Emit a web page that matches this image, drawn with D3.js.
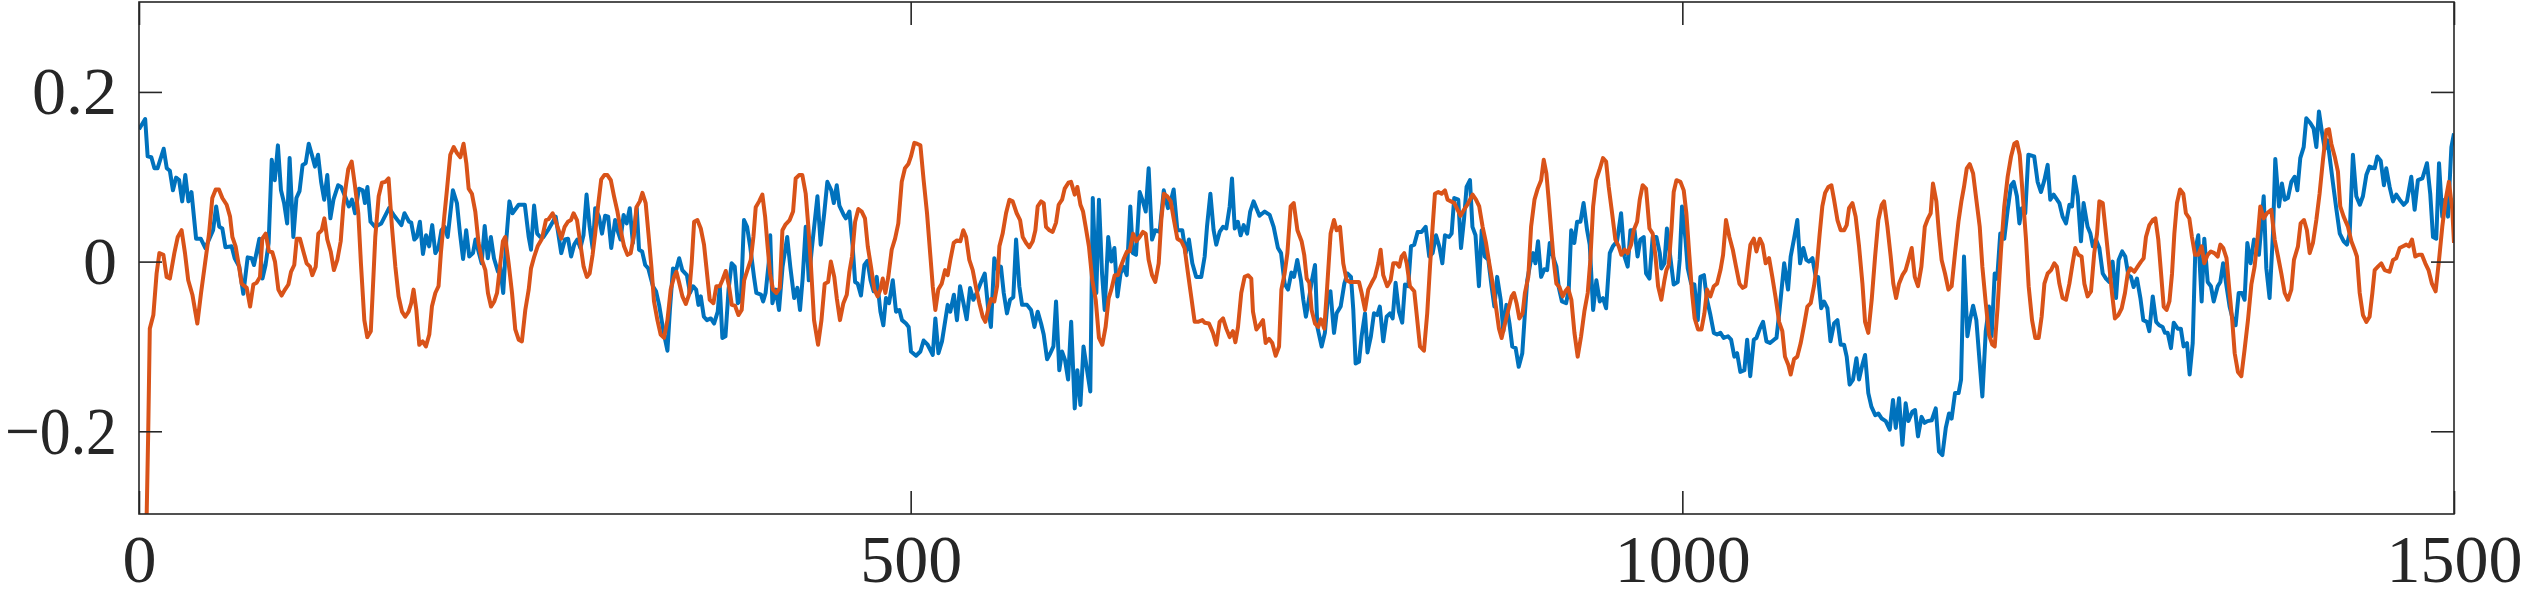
<!DOCTYPE html>
<html>
<head>
<meta charset="utf-8">
<script src="https://cdn.jsdelivr.net/npm/d3@7/dist/d3.min.js"></script>
<style>
	html, body { margin: 0; padding: 0; background: #fff; }
	svg { display: block; }
</style>
</head>
<body>
<svg id="chart" width="2527" height="597"></svg>
<script>
(function () {

	// sample index / value pairs
	var blueSeries = [[0,.156],[4,.168],[5.6,.124],[8,.123],[10,.110],[12,.110],[16,.133],[18,.110],[20,.107],[22,.084],[24,.099],[26,.096],[28,.071],[30,.102],[32,.071],[34,.082],[37,.027],[40,.027],[43,.016],[48,.037],[50,.065],[52,.041],[54,.039],[56,.017],[60,.018],[62,.004],[65,-.006],[67.6,-.038],[70.4,.005],[73,.004],[74.5,-.004],[78,.027],[80,-.020],[82,-.004],[84,.022],[86,.120],[88,.096],[90,.137],[92,.084],[94,.069],[96,.045],[97.6,.122],[100,.029],[102,.075],[104,.083],[106,.114],[108,.116],[110,.139],[112,.126],[114,.112],[116,.126],[118,.094],[120,.073],[122,.102],[124,.051],[126,.073],[129,.090],[131,.088],[133.5,.077],[136,.065],[138,.073],[140,.057],[142.5,.086],[145,.084],[146.4,.069],[148,.088],[150,.047],[153,.041],[157,.045],[162,.063],[165,.055],[170,.043],[172,.057],[175,.047],[176.4,.046],[178.4,.026],[180,.029],[182,.047],[184,.009],[186,.031],[188,.018],[190,.043],[192,.010],[194,.016],[196,.037],[198,.041],[200,.029],[203.4,.084],[206,.069],[208,.033],[210,.003],[212,.037],[214,.006],[216.4,.010],[218,.026],[220,.012],[222,-.002],[224,.042],[226,.004],[228,.029],[230,.004],[232.6,-.012],[234,-.006],[236,-.037],[238,.026],[240,.071],[242,.057],[246,.067],[250,.067],[252.5,.029],[254,.014],[256,.066],[258,.033],[260,.029],[262,.029],[265,.037],[270,.053],[273.6,.010],[276,.026],[278,.027],[280,.006],[282,.020],[284,.026],[286,.016],[288,.031],[290,.079],[292,.041],[294,.015],[295.6,.063],[298,.053],[300,.033],[302,.054],[304,.053],[306,.016],[308.5,.049],[310,.037],[312,.026],[314,.055],[316,.045],[318,.063],[320,.022],[322.5,.063],[324,.014],[326,.012],[328,-.004],[330,-.008],[333,-.029],[335,-.035],[337,-.051],[340,-.084],[342.4,-.105],[344,-.057],[346,-.008],[348,-.010],[350,.004],[352,-.010],[355,-.016],[357,-.037],[359,-.029],[361,-.033],[362.5,-.051],[364,-.041],[366,-.065],[368,-.069],[370.5,-.067],[372.6,-.073],[375,-.059],[376.3,-.029],[378,-.090],[380,-.088],[382,-.033],[384,-.002],[386,-.006],[388,-.049],[390,-.045],[392,.049],[394,.041],[396,.018],[398.5,-.018],[400,-.037],[403,-.039],[404.4,-.047],[406,-.037],[408,-.002],[409,.031],[410.4,-.049],[412.6,-.033],[414.7,-.057],[417,-.006],[420,.029],[422,-.006],[424.5,-.043],[426.6,-.031],[428.3,-.057],[430,-.020],[432,.041],[434,-.022],[436,.016],[439.6,.077],[441.7,.020],[444,.057],[446,.094],[448.6,.084],[450.2,.069],[452.1,.090],[453.8,.066],[456.6,.055],[458,.051],[460.3,.059],[462.4,.018],[464,-.024],[465.7,-.026],[467.8,-.040],[470,-.004],[472,.001],[474,-.022],[476,-.035],[478,-.018],[480.4,-.059],[482.3,-.075],[484,-.043],[486,-.049],[488.4,-.022],[490.5,-.059],[492.7,-.057],[494.4,-.069],[497,-.073],[498.7,-.077],[500.2,-.106],[503.5,-.111],[506.3,-.106],[508.4,-.093],[511,-.098],[514.3,-.110],[516,-.067],[518,-.108],[520.3,-.094],[524,-.051],[525.7,-.059],[528,-.039],[530,-.069],[532,-.029],[534,-.047],[536.3,-.068],[538.5,-.031],[540.6,-.045],[542.8,-.037],[545.6,-.024],[548,-.014],[550.3,-.057],[552,-.077],[554.2,.004],[556.8,-.012],[558.5,-.006],[560.3,-.037],[562.4,-.061],[564.4,-.045],[566.5,-.042],[568.3,.026],[570.4,-.029],[572.2,-.051],[575.4,-.051],[578,-.057],[580.2,-.077],[582.3,-.059],[584.5,-.073],[586.2,-.086],[588.4,-.115],[590.5,-.108],[592.5,-.100],[594.2,-.047],[596.3,-.128],[598.1,-.106],[600,-.116],[602,-.139],[604,-.071],[606.3,-.173],[608,-.128],[610,-.169],[612,-.100],[614.3,-.128],[616.4,-.153],[618,.075],[620.3,-.037],[622,.073],[624,-.014],[625.7,-.057],[628,.029],[630,0],[632,.016],[634,-.041],[636,-.014],[638,-.006],[640,-.016],[642.3,.065],[644,.010],[646,.008],[648.4,.082],[650.5,.071],[652.3,.059],[654.2,.110],[656.4,.026],[658.5,.037],[661.3,.035],[664,.084],[666.7,.063],[668.5,.071],[670.4,.085],[672.8,.037],[676,.037],[678.2,.010],[680.3,.026],[682.5,-.002],[685,-.018],[688.3,-.018],[690.5,.006],[692,.041],[694.2,.080],[696.3,.037],[698,.020],[700.2,.035],[702.4,.041],[704.5,.039],[706.7,.065],[708.2,.098],[710,.039],[712,.047],[713.8,.031],[715.8,.043],[718,.033],[720,.059],[722.2,.071],[726,.054],[729.4,.059],[732.6,.055],[735.2,.041],[738,.016],[740,.010],[742.3,-.026],[744.5,-.033],[746.7,-.013],[748.4,-.018],[750.5,.002],[752.9,-.022],[754.4,-.045],[756.1,-.065],[758,-.045],[759.8,-.024],[762,-.004],[763.5,-.077],[766.3,-.100],[768.4,-.084],[770.6,-.037],[772,-.035],[774.3,-.084],[776,-.061],[778.6,-.053],[781,-.026],[783,-.014],[785.3,-.018],[786.8,-.057],[788.3,-.120],[790.5,-.118],[792.2,-.088],[794.4,-.061],[796,-.107],[798.2,-.088],[800.2,-.061],[802.3,-.063],[804,-.053],[806.2,-.094],[808.4,-.065],[810.6,-.061],[812.3,-.067],[814.2,-.025],[816.4,-.059],[818.5,-.072],[820.3,-.027],[822.4,-.029],[824.2,.018],[826.3,.020],[828.5,.035],[831,.035],[833.7,.041],[836,.006],[838.2,.010],[840.4,.031],[842.5,.018],[844.5,-.002],[846.2,.031],[848.8,.029],[850.5,.033],[852.2,.075],[854.8,.073],[856.6,.016],[858.5,.049],[860.2,.088],[862.4,.096],[864,.041],[866,.031],[868.2,-.029],[870,.037],[872,.006],[874.3,.002],[876.4,-.029],[878.2,-.053],[880,-.018],[882.3,-.045],[884,-.082],[886,-.051],[888,-.073],[889.8,-.100],[892,-.102],[894,-.124],[896.3,-.108],[898,-.061],[899.5,-.022],[901.5,-.002],[903.3,.010],[904.8,-.002],[906.5,.024],[908.5,-.018],[910.6,-.009],[912.4,-.010],[914.1,.022],[916.2,.006],[918.4,-.006],[920,-.031],[922,-.047],[924.7,-.049],[926.4,-.033],[928,.037],[930,.022],[931.8,.047],[934,.047],[936,.069],[938.3,.037],[940,.020],[942.2,-.057],[944.3,-.022],[946.5,-.047],[948.6,-.043],[950.6,-.055],[953,.010],[955,.018],[957.7,.024],[960.3,.057],[962.5,.006],[964.6,-.006],[966.4,.037],[969,.037],[971,.006],[972.8,.026],[975,.029],[976.5,-.014],[978.7,-.020],[980.8,.029],[983.2,.029],[985.4,.010],[986.4,-.008],[988.4,-.002],[990,.039],[992.3,.004],[994.4,-.027],[997,-.024],[998.3,.002],[999.8,.065],[1002,.027],[1003.5,-.008],[1005.7,-.026],[1007.8,-.027],[1010,-.069],[1011.7,-.018],[1014,-.016],[1016,-.045],[1018.2,-.063],[1020.4,-.084],[1022.5,-.086],[1024.7,-.084],[1026.8,-.090],[1029.6,-.088],[1031.6,-.092],[1033.7,-.112],[1035.5,-.108],[1037.6,-.130],[1040.2,-.128],[1042,-.092],[1044,-.135],[1046.3,-.092],[1048,-.090],[1050.2,-.079],[1052.3,-.071],[1054.5,-.094],[1056.8,-.096],[1059.4,-.092],[1061,-.090],[1063,-.057],[1066,-.002],[1068.5,-.033],[1070.2,.006],[1072.4,.027],[1074.5,.049],[1076.3,-.002],[1078.4,.016],[1080.4,.002],[1082,0],[1084.3,.004],[1086.4,-.018],[1088,-.018],[1090,-.055],[1091.8,-.047],[1094,-.055],[1096,-.094],[1098.3,-.073],[1100.5,-.069],[1102.6,-.098],[1104.8,-.098],[1106.5,-.112],[1108.4,-.145],[1110.6,-.139],[1112.8,-.114],[1114.5,-.139],[1116.6,-.122],[1118.4,-.110],[1120.5,-.155],[1122.5,-.171],[1125,-.181],[1127,-.179],[1129.2,-.185],[1131.8,-.188],[1134.4,-.198],[1136.5,-.163],[1138.3,-.196],[1140.4,-.161],[1142.6,-.216],[1144.7,-.167],[1146.5,-.188],[1149,-.177],[1150.8,-.175],[1152.7,-.206],[1155,-.183],[1157,-.190],[1158.8,-.188],[1161.6,-.187],[1164.2,-.173],[1166.3,-.224],[1168.5,-.228],[1170.7,-.196],[1172.8,-.179],[1174.5,-.185],[1176.7,-.155],[1179,-.155],[1180.6,-.139],[1182.5,.006],[1184.7,-.088],[1186.4,-.069],[1188.4,-.052],[1190.5,-.069],[1192.7,-.120],[1194.4,-.159],[1196.6,-.082],[1198.7,-.053],[1200.4,-.088],[1202.4,-.014],[1204,-.020],[1206,.033],[1208.6,.027],[1210.8,.061],[1213,.090],[1214.7,.094],[1216.8,.077],[1218.4,.045],[1220,.063],[1222.2,.057],[1224.2,.126],[1228,.124],[1230.2,.094],[1232.4,.082],[1234.6,.096],[1236.7,.114],[1238.4,.073],[1240.6,.079],[1244.3,.069],[1246.4,.053],[1248.6,.045],[1250.8,.067],[1252.5,.065],[1254,.100],[1256.2,.077],[1258.3,.024],[1260,.069],[1262.6,.041],[1264.4,.033],[1266,.018],[1268,.026],[1270.2,.016],[1272.4,-.014],[1274.5,-.020],[1276.7,-.024],[1278.8,0],[1281,-.043],[1282.7,.002],[1285,.012],[1287,.006],[1289,-.016],[1290.7,-.018],[1292.4,-.030],[1294.6,-.020],[1296.8,-.043],[1298.7,-.069],[1301,-.071],[1302.6,-.082],[1304.8,-.041],[1307,-.071],[1309,-.075],[1311.2,-.077],[1312.7,-.084],[1314.5,-.084],[1316.6,-.102],[1318.4,-.072],[1321,-.079],[1323,-.079],[1324.8,-.100],[1327,-.096],[1328.7,-.133],[1330.7,-.096],[1332.4,.014],[1334.3,.031],[1336.5,-.047],[1338.2,.027],[1340.4,-.024],[1342.5,-.029],[1344.3,-.047],[1346.9,-.029],[1348.6,-.024],[1350.4,-.002],[1352.6,-.029],[1354.6,-.053],[1356.8,-.069],[1358.5,-.075],[1360.5,-.037],[1362.6,-.037],[1364.3,-.045],[1366.1,.022],[1368.2,-.002],[1370.4,.026],[1372,.024],[1373.6,.008],[1375.1,.041],[1376.7,.077],[1378.4,-.008],[1380.5,-.043],[1382.7,.033],[1384.2,.121],[1386.6,.065],[1388.5,.092],[1390.3,.073],[1392.4,.075],[1394.6,.094],[1396.7,.100],[1398.5,.084],[1400.4,.122],[1402.6,.135],[1404.3,.169],[1407,.163],[1409,.157],[1410.8,.135],[1412.5,.177],[1414.4,.153],[1416.2,.133],[1418,.143],[1419.4,.124],[1421.6,.092],[1423.7,.063],[1426,.033],[1428.5,.024],[1430.6,.020],[1432.4,.033],[1434.5,.126],[1436.7,.077],[1439,.067],[1441,.077],[1443.2,.102],[1445.3,.112],[1448.6,.110],[1450.3,.124],[1452.5,.119],[1454.6,.090],[1456.1,.110],[1458.3,.088],[1460.5,.071],[1462.6,.079],[1464.8,.073],[1467.4,.067],[1469.5,.071],[1472.3,.100],[1474.5,.061],[1476.6,.096],[1479.5,.098],[1482.5,.116],[1484.6,.080],[1486.4,.029],[1488.5,.027],[1490.3,.116],[1492.4,.053],[1494,.073],[1496.1,.053],[1498.3,.135],[1500,.151]];

	var orangeSeries = [[3,-.33],[5,-.296],[6,-.198],[7,-.079],[9.3,-.063],[11.4,-.014],[13.2,.010],[15.8,.008],[17.9,-.018],[20,-.020],[22.9,.010],[25.1,.029],[27.6,.037],[29.8,.010],[31.9,-.022],[34.6,-.039],[37.8,-.073],[40.2,-.037],[42.8,-.002],[45.4,.033],[47.5,.075],[49.7,.085],[51.8,.085],[54,.075],[56.8,.067],[59,.053],[60.5,.029],[62.6,.018],[64.8,-.006],[66.5,-.026],[69.8,-.031],[72,-.053],[74.1,-.027],[76.2,-.025],[78.4,-.018],[79.9,.027],[82.1,.033],[84.2,.012],[86.4,.011],[88.1,0],[90.3,-.033],[92.4,-.040],[94.6,-.033],[96.8,-.027],[98.5,-.012],[100.6,-.004],[102.2,.027],[104.3,.027],[106.5,.012],[108.6,-.002],[110.8,-.006],[112.3,-.016],[114.5,-.006],[116.2,.033],[118.4,.037],[120.1,.051],[122,.026],[124.2,.012],[126.3,-.010],[128.5,.002],[130.7,.024],[132.4,.065],[134.1,.090],[135.6,.109],[137.8,.118],[139.9,.090],[142.1,.057],[143.8,-.002],[146,-.069],[147.9,-.089],[150.2,-.082],[151.4,-.037],[153.1,.029],[155.3,.077],[157.4,.093],[159.6,.094],[161.7,.098],[163.9,.041],[166.1,-.006],[168.2,-.041],[170.4,-.059],[172.5,-.065],[174.7,-.059],[176.4,-.049],[177.9,-.033],[179.7,-.057],[181.6,-.098],[183.8,-.094],[185.9,-.100],[188.1,-.086],[189.8,-.053],[192,-.037],[194.1,-.029],[195.6,.010],[197.8,.053],[199.5,.084],[201.7,.126],[203.9,.135],[206,.128],[208.2,.123],[210.3,.139],[212.1,.116],[213.6,.086],[215.7,.080],[217.9,.059],[220,.022],[222.2,.002],[224.4,-.010],[226.1,-.037],[228.1,-.053],[230.2,-.047],[232,-.037],[234.1,-.002],[235.8,.024],[237.3,.029],[239.5,-.002],[241.7,-.037],[243.8,-.080],[246,-.092],[248.1,-.094],[250.3,-.057],[252.5,-.033],[254,-.008],[256.1,.006],[258.3,.018],[261.1,.027],[263.7,.049],[265.4,.050],[268,.057],[269.7,.049],[271.9,.037],[273.6,.027],[275.8,.041],[277.9,.047],[279.9,.049],[281.6,.057],[283.8,.049],[285.9,.022],[288.1,-.006],[290.2,-.018],[292,-.014],[293.9,.008],[295.6,.033],[297.4,.065],[299.5,.097],[301.5,.102],[303.5,.102],[305.7,.096],[307.8,.077],[310,.059],[312.1,.037],[314.3,.018],[316.5,.008],[318.6,.010],[320.8,.033],[322.3,.064],[324.5,.071],[326.2,.081],[328.3,.069],[330.1,.033],[332,-.006],[333.7,-.047],[335.9,-.069],[338,-.086],[340.2,-.090],[342.4,-.069],[344.5,-.033],[346.7,-.018],[348.2,-.012],[349.9,-.024],[352.1,-.041],[354.3,-.050],[356.4,-.039],[358.1,-.002],[359.7,.047],[361.8,.049],[364,.039],[366.1,.020],[367.6,-.006],[369.8,-.045],[372.2,-.049],[374.1,-.029],[376.3,-.029],[378,-.022],[380.2,-.011],[382.3,-.029],[384.1,-.051],[386.2,-.052],[388.4,-.063],[390.5,-.057],[392.1,-.022],[394.2,-.010],[396.4,.002],[398.1,.029],[399.6,.064],[401.8,.071],[403.9,.079],[405.7,.053],[407.2,.020],[408.9,-.014],[410.8,-.033],[413,-.037],[415.2,-.031],[416.9,.037],[419,.044],[421.6,.049],[423.8,.059],[425.5,.098],[427.7,.102],[429.8,.102],[432,.080],[433.7,.041],[435.3,-.002],[437.4,-.069],[440,-.098],[442.2,-.069],[444.3,-.026],[446.5,-.024],[448.3,0],[450.5,-.018],[452.2,-.044],[454.2,-.069],[456.4,-.049],[458.6,-.039],[460.3,-.012],[462,.006],[464,.047],[466.1,.062],[468.3,.059],[470.4,.051],[472.2,.018],[474.3,-.006],[476.5,-.033],[478.6,-.041],[480.4,-.033],[481.9,-.020],[483.6,-.037],[485.5,-.018],[487.7,.014],[489.9,.027],[492,.045],[494.2,.094],[496.3,.110],[498.5,.115],[500.2,.124],[502.4,.140],[504.1,.139],[506.3,.137],[508.4,.096],[510.6,.057],[512.8,.006],[514.3,-.029],[516,-.057],[517.9,-.033],[520.1,-.026],[522.3,-.010],[524,-.016],[525.7,.002],[527.9,.022],[530,.025],[532.2,.024],[534.1,.037],[535.9,.029],[538,.002],[540.2,-.010],[542.4,-.031],[544.5,-.049],[546.7,-.065],[548.4,-.071],[550.6,-.053],[552.1,-.044],[554.2,-.047],[556,-.029],[557.5,.018],[559.6,.033],[561.8,.057],[564,.073],[566.1,.071],[568.7,.057],[570.9,.049],[572.6,.029],[574.8,.022],[576.9,.017],[579.1,.024],[580.8,.037],[582.3,.065],[584.5,.071],[586.2,.069],[587.7,.041],[589.9,.037],[592,.035],[594.2,.046],[595.9,.067],[598.1,.073],[599.8,.086],[602.2,.093],[603.9,.094],[606.3,.079],[608,.088],[610,.067],[611.7,.059],[613.4,.041],[615.5,.018],[617.7,-.022],[619.9,-.045],[622,-.090],[624.2,-.098],[626.3,-.077],[628.3,-.043],[630,-.033],[632.2,-.016],[634.3,-.016],[636.1,-.006],[638.2,.004],[640.2,.012],[641.9,.012],[644.1,.033],[646.2,.024],[648.4,.029],[650.5,.035],[652.3,.033],[654.2,.002],[656.4,-.016],[658.5,-.024],[660.7,-.002],[662.4,.049],[664.1,.080],[666.3,.077],[668.5,.071],[670.6,.049],[672.8,.027],[675.4,.024],[677.5,.016],[679.7,-.014],[681.9,-.043],[684,-.071],[686.2,-.071],[689,-.069],[690.5,-.072],[693.3,-.073],[695.9,-.084],[698.1,-.098],[700.2,-.071],[702.4,-.067],[704.5,-.079],[706.7,-.089],[708.8,-.082],[710.4,-.095],[712.1,-.077],[714.2,-.037],[716.4,-.018],[718.6,-.016],[720.7,-.020],[721.8,-.059],[724,-.080],[726.1,-.075],[728.3,-.069],[730,-.096],[732.2,-.091],[734.3,-.096],[736.5,-.111],[738.7,-.100],[740.2,-.033],[742.3,-.014],[744.1,.010],[746.2,.065],[748.2,.069],[750.6,.037],[753.3,.024],[755,.008],[756.6,-.020],[758.3,-.025],[759.8,-.057],[762,-.073],[764.1,-.077],[765.8,-.068],[768,-.079],[769.9,-.029],[772.1,.033],[774.3,.049],[776,.037],[778.2,.041],[780.3,-.002],[782.5,-.022],[784.6,-.024],[787.4,-.024],[790.5,-.024],[792.2,-.037],[794.4,-.057],[796.5,-.033],[798.7,-.025],[800.8,-.018],[803,-.002],[804.5,.014],[806.2,-.016],[808.8,-.029],[811,-.022],[812.7,-.002],[814.9,-.002],[816.6,-.006],[818.1,.006],[819.8,.010],[821.4,-.002],[823.5,-.029],[826.3,-.035],[827.8,-.061],[830,-.100],[832.6,-.105],[834.7,-.061],[836.5,-.006],[838.2,.041],[839.7,.080],[841.9,.082],[844,.080],[846.2,.084],[847.9,.073],[850.1,.071],[852.2,.069],[854.4,.061],[856.3,.054],[858.5,.061],[860.7,.067],[862.4,.073],[864.1,.079],[866.3,.073],[868.4,.065],[870.6,.041],[872.8,.022],[874.9,-.002],[877.1,-.026],[879.2,-.053],[881.2,-.079],[882.9,-.090],[885.1,-.073],[887.2,-.057],[889.4,-.041],[890.9,-.037],[892.6,-.049],[894.4,-.067],[896.5,-.061],[898,-.037],[900.2,-.018],[902,.041],[904.2,.073],[906.3,.086],[908.5,.096],[910.2,.120],[911.9,.104],[913.4,.073],[915.2,.033],[916.7,0],[918.4,-.026],[920.4,-.030],[922.5,-.041],[924.2,-.035],[925.9,-.031],[928.1,-.045],[930.1,-.084],[932.2,-.112],[934.4,-.088],[936.5,-.059],[938.7,-.037],[940.4,.002],[942.2,.065],[944.1,.096],[946.3,.108],[948.6,.122],[950.6,.118],[952.3,.088],[954.5,.057],[956.6,.026],[958.8,.018],[960.5,.008],[962.7,.014],[964.6,.010],[966.8,.020],[968.5,.037],[970.7,.047],[972.4,.073],[974.3,.090],[976.5,.086],[978.7,.039],[980.8,.033],[982.6,.006],[984.3,-.029],[986.4,-.045],[988.4,-.022],[989.7,-.010],[991.2,-.004],[993,.039],[994.4,.082],[996.2,.096],[998.8,.094],[1000.9,.084],[1002.6,.057],[1004.6,.006],[1006.3,-.037],[1008,-.067],[1010.2,-.080],[1012.4,-.080],[1014.3,-.061],[1016,-.033],[1018.2,-.041],[1020.4,-.029],[1022.5,-.026],[1024.7,-.010],[1026.4,.008],[1028.3,.049],[1030.5,.029],[1032.7,.014],[1034.8,-.006],[1037,-.026],[1039.1,-.031],[1040.9,-.029],[1042.6,-.002],[1044.1,.020],[1046.3,.027],[1048,.012],[1050.2,.027],[1052,.020],[1054,-.002],[1056.2,.004],[1058.3,-.018],[1060.5,-.043],[1062.7,-.071],[1064.8,-.082],[1066.5,-.112],[1068.7,-.122],[1070.2,-.133],[1072.4,-.115],[1074.5,-.112],[1076.7,-.096],[1078.9,-.075],[1081,-.053],[1083.2,-.049],[1085.3,-.029],[1087.1,-.006],[1089,.033],[1090.7,.065],[1092.5,.081],[1094.6,.088],[1096.6,.090],[1098.3,.073],[1100.5,.049],[1102.6,.037],[1104.8,.037],[1106.5,.043],[1108,.063],[1110.2,.069],[1112.3,.053],[1114.5,.018],[1116.7,-.026],[1118.4,-.071],[1120.5,-.084],[1122.7,-.045],[1124.9,.006],[1127,.049],[1129.2,.067],[1130.7,.071],[1132.9,.041],[1135,.006],[1136.7,-.026],[1138.5,-.043],[1140.4,-.026],[1142.6,-.016],[1144.7,-.010],[1146.5,.002],[1148.6,.016],[1150.6,-.018],[1152.7,-.029],[1154.9,-.006],[1157.1,.041],[1159.2,.051],[1160.9,.057],[1162.4,.092],[1164.6,.071],[1166.3,.033],[1168,.002],[1170.2,-.014],[1172.4,-.033],[1174.5,-.029],[1176.7,.010],[1178.9,.047],[1180.8,.071],[1182.5,.088],[1184.3,.110],[1186.2,.115],[1188.4,.104],[1190.5,.073],[1192.7,.041],[1194.4,-.006],[1196.6,-.049],[1198.7,-.086],[1200.9,-.098],[1202.4,-.100],[1204.3,-.053],[1206.5,.014],[1208.6,.065],[1210.8,.100],[1213,.124],[1215.1,.139],[1216.8,.141],[1218.6,.126],[1220.5,.080],[1222.7,.026],[1224.4,-.029],[1226.6,-.069],[1228.7,-.090],[1230.9,-.090],[1232.8,-.065],[1234.6,-.026],[1236.7,-.014],[1238.9,-.010],[1241,-.002],[1242.7,-.006],[1244.3,-.026],[1246.4,-.043],[1248.6,-.045],[1250.8,-.026],[1252.9,-.002],[1254.6,.016],[1256.6,.008],[1258.7,.006],[1260.5,-.026],[1262.6,-.041],[1264.8,-.035],[1266.9,.010],[1268.7,.033],[1270.2,.071],[1272.4,.069],[1274.5,.033],[1276.7,-.006],[1278.4,-.037],[1280.3,-.067],[1282.5,-.063],[1284.7,-.055],[1286.8,-.037],[1288.6,-.014],[1290.3,-.008],[1292.9,-.012],[1295,-.006],[1297.2,0],[1298.9,.004],[1300.4,.029],[1302.6,.043],[1304.8,.049],[1306.5,.051],[1308.4,.026],[1310.2,-.014],[1311.9,-.053],[1313.8,-.057],[1315.6,-.047],[1317.3,-.014],[1318.8,.033],[1320.5,.069],[1322.5,.085],[1324.6,.080],[1326.3,.057],[1328.5,.051],[1330.2,.029],[1332.2,.008],[1334.3,.008],[1336.5,.018],[1338.2,-.002],[1340.4,.008],[1342.5,.012],[1344.7,.010],[1346.9,.006],[1348.6,.020],[1350.5,.016],[1352.6,.004],[1354.6,-.037],[1356.3,-.069],[1357.9,-.108],[1360,-.130],[1362.2,-.135],[1364.3,-.104],[1366.5,-.069],[1368.7,-.027],[1370.8,-.006],[1373,.033],[1374.5,.065],[1376.7,.051],[1378.8,.057],[1381.6,.061],[1383.8,.026],[1386,.006],[1388.1,-.014],[1390.3,-.037],[1392.4,-.045],[1394.6,-.033],[1396.3,.002],[1398.9,.018],[1400.6,.045],[1402.8,.049],[1404.7,.037],[1406.5,.010],[1408.6,.022],[1410.8,.049],[1412.9,.080],[1415.1,.120],[1417.3,.155],[1419,.156],[1420.5,.139],[1422.7,.124],[1424.8,.106],[1426.3,.065],[1428.5,.053],[1431.3,.041],[1433.5,.024],[1435.6,.014],[1437.1,.006],[1438.9,-.037],[1441,-.063],[1443.2,-.071],[1445.3,-.065],[1447.1,-.037],[1448.6,-.010],[1450.7,-.006],[1452.9,-.002],[1455.1,-.010],[1458.3,-.012],[1460.5,.002],[1462.6,.004],[1464.8,.016],[1467,.018],[1469.1,.020],[1470.8,.018],[1472.8,.026],[1474.9,.006],[1477.1,.008],[1479.2,.008],[1481.4,-.002],[1483.5,-.010],[1485.7,-.026],[1488.1,-.035],[1490.3,.002],[1492.4,.041],[1494.6,.073],[1496.7,.094],[1498.9,.061],[1500,.022]];

	var xTicks = [0, 500, 1000, 1500];
	var yTicks = [-0.2, 0, 0.2];

	drawChart();

	function drawChart() {
		var svg = d3.select("#chart"),
			left = 139, right = 2454, top = 2, bottom = 514;

		var x = d3.scaleLinear().domain([0, 1500]).range([left, right]);
		var y = d3.scaleLinear().domain([-0.2975, 0.306]).range([bottom, top]);

		svg.append("defs").append("clipPath").attr("id", "plot-clip")
			.append("rect")
			.attr("x", left).attr("y", top)
			.attr("width", right - left).attr("height", bottom - top);

		var line = d3.line()
			.x(function(d) { return x(d[0]); })
			.y(function(d) { return y(d[1]); });

		var lines = svg.append("g").attr("clip-path", "url(#plot-clip)");

		lines.append("path")
			.datum(blueSeries)
			.attr("fill", "none")
			.attr("stroke", "#0072BD")
			.attr("stroke-width", 4)
			.attr("stroke-linejoin", "round")
			.attr("d", line);

		lines.append("path")
			.datum(orangeSeries)
			.attr("fill", "none")
			.attr("stroke", "#D95319")
			.attr("stroke-width", 4)
			.attr("stroke-linejoin", "round")
			.attr("d", line);

		// box axes with inward ticks on every side
		var tick = 23;
		var fmt = function(d) { return d === 0 ? "0" : d3.format(".1f")(d).replace("-", "\u2212"); };

		var xAxis = svg.append("g").attr("transform", "translate(0," + bottom + ")")
			.call(d3.axisBottom(x).tickValues(xTicks).tickSizeInner(-tick).tickSizeOuter(0).tickFormat(function(d) { return d; }));
		xAxis.selectAll(".tick text").attr("y", 68).attr("dy", 0);

		svg.append("g").attr("transform", "translate(0," + top + ")")
			.call(d3.axisTop(x).tickValues(xTicks).tickSizeInner(-tick).tickSizeOuter(0).tickFormat(""));
		var yAxis = svg.append("g").attr("transform", "translate(" + left + ",0)")
			.call(d3.axisLeft(y).tickValues(yTicks).tickSizeInner(-tick).tickSizeOuter(0).tickFormat(fmt).tickPadding(22));
		// the long minus makes -0.2 too wide for the margin, squeeze it a little
		yAxis.selectAll(".tick text")
			.filter(function(d) { return d < 0; })
			.attr("textLength", 112)
			.attr("lengthAdjust", "spacingAndGlyphs");
		svg.append("g").attr("transform", "translate(" + right + ",0)")
			.call(d3.axisRight(y).tickValues(yTicks).tickSizeInner(-tick).tickSizeOuter(0).tickFormat(""));

		svg.selectAll(".domain").remove();
		svg.selectAll(".tick line").attr("stroke", "#262626").attr("stroke-width", 1.6);
		svg.selectAll(".tick text")
			.attr("fill", "#262626")
			.style("font-family", "'Liberation Serif', 'DejaVu Serif', serif")
			.style("font-size", "68px");

		svg.append("rect")
			.attr("x", left).attr("y", top)
			.attr("width", right - left).attr("height", bottom - top)
			.attr("fill", "none")
			.attr("stroke", "#262626")
			.attr("stroke-width", 1.6);
	}

})();
</script>
</body>
</html>
